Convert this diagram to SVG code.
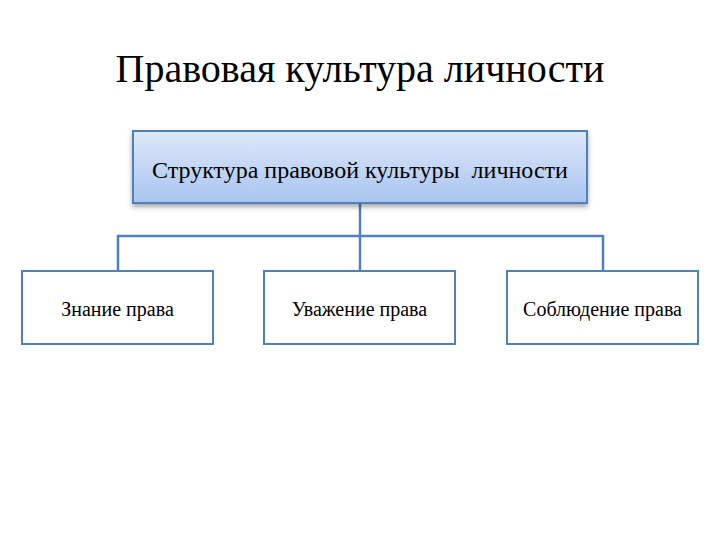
<svg xmlns="http://www.w3.org/2000/svg" width="720" height="540" viewBox="0 0 720 540">
<defs>
<linearGradient id="g" x1="0" y1="0" x2="0" y2="1">
<stop offset="0" stop-color="#dde8fa"/>
<stop offset="1" stop-color="#a9c4ef"/>
</linearGradient>
<filter id="sh" x="-10%" y="-20%" width="120%" height="150%">
<feDropShadow dx="0" dy="3" stdDeviation="2.5" flood-color="#000" flood-opacity="0.35"/>
</filter>
<style>
text{font-family:"Liberation Serif","Times New Roman",serif;fill:#000;text-anchor:middle}
.box{fill:#fff;stroke:#4f81bd;stroke-width:2}
.conn{fill:none;stroke:#4f81bd;stroke-width:2.5}
</style>
</defs>
<rect width="720" height="540" fill="#fff"/>
<text x="360" y="82" font-size="40">Правовая культура личности</text>
<g id="connectors">
<path class="conn" d="M360 203V236M118 271V236H603V271M360 236V271"/>
</g>
<g id="root">
<rect x="133" y="131" width="454" height="72" fill="url(#g)" stroke="#4f81bd" stroke-width="2" filter="url(#sh)"/>
<text x="360" y="178" font-size="24" xml:space="preserve">Структура правовой культуры  личности</text>
</g>
<g id="n1">
<rect class="box" x="22" y="271" width="191" height="73"/>
<text x="117.5" y="316" font-size="20">Знание права</text>
</g>
<g id="n2">
<rect class="box" x="264" y="271" width="191" height="73"/>
<text x="359.5" y="316" font-size="20">Уважение права</text>
</g>
<g id="n3">
<rect class="box" x="507" y="271" width="191" height="73"/>
<text x="602.5" y="316" font-size="20">Соблюдение права</text>
</g>
</svg>
